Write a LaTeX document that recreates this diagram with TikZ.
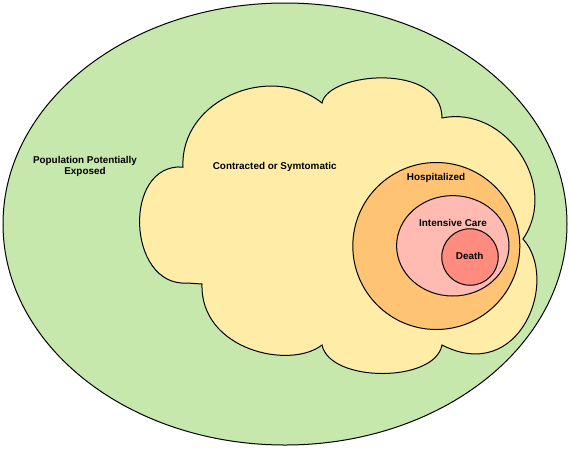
\documentclass[tikz,border=0pt]{standalone}
\usepackage{fontspec}
\setmainfont{Liberation Sans}
\usetikzlibrary{shapes.geometric}
\definecolor{expcol}{HTML}{C7E8AC}
\definecolor{symcol}{HTML}{FFECA7}
\definecolor{hospcol}{HTML}{FFC374}
\definecolor{icucol}{HTML}{FFBBB1}
\definecolor{deathcol}{HTML}{FF8C7F}

\begin{document}
\begin{tikzpicture}[
  x=1pt, y=-1pt,
  every node/.style={align=center},
  zone/.style={draw=black, line width=1pt, inner sep=0pt},
  lbl/.style={font=\bfseries\fontsize{9.9}{11}\selectfont, inner sep=0pt}
]
\useasboundingbox (0,0) rectangle (570,448);

%% ── Outer population ──────────────────────────────────────────────────────
\node[zone, ellipse, fill=expcol, minimum width=564pt,
      minimum height=442pt] (exposed) at (285,224) {};

%% ── Cloud : contracted / symptomatic ──────────────────────────────────────
\draw[zone, fill=symcol, line join=miter]
  (183,167) .. controls (180,100) and (270,62) .. (322,103)
            .. controls (328,72) and (442,62) .. (442,118)
            .. controls (505,105) and (560,185) .. (523,239)
            .. controls (560,280) and (520,385) .. (442,345)
            .. controls (435,383) and (330,383) .. (322,345)
            .. controls (290,370) and (200,350) .. (202,284)
            -- (187,283)
            .. controls (127,287) and (122,163) .. cycle;

%% ── Nested care levels ────────────────────────────────────────────────────
\node[zone, circle, fill=hospcol, minimum size=167pt] (hosp) at (436.3,246) {};
\node[zone, ellipse, fill=icucol, minimum width=112.4pt,
      minimum height=100.4pt] (icu) at (452.8,245.8) {};
\node[zone, circle, fill=deathcol, minimum size=56.5pt] (death) at (470,257) {};

%% ── Labels ────────────────────────────────────────────────────────────────
\node[lbl] (exposedlbl) at (85,166.2) {Population Potentially\\Exposed};
\node[lbl] (symlbl)     at (274.7,167.3) {Contracted or Symtomatic};
\node[lbl] (hosplbl)    at (436,178.3) {Hospitalized};
\node[lbl] (iculbl)     at (453,223.3) {Intensive Care};
\node[lbl] (deathlbl)   at (469.7,255.7) {Death};

\end{tikzpicture}
\end{document}
